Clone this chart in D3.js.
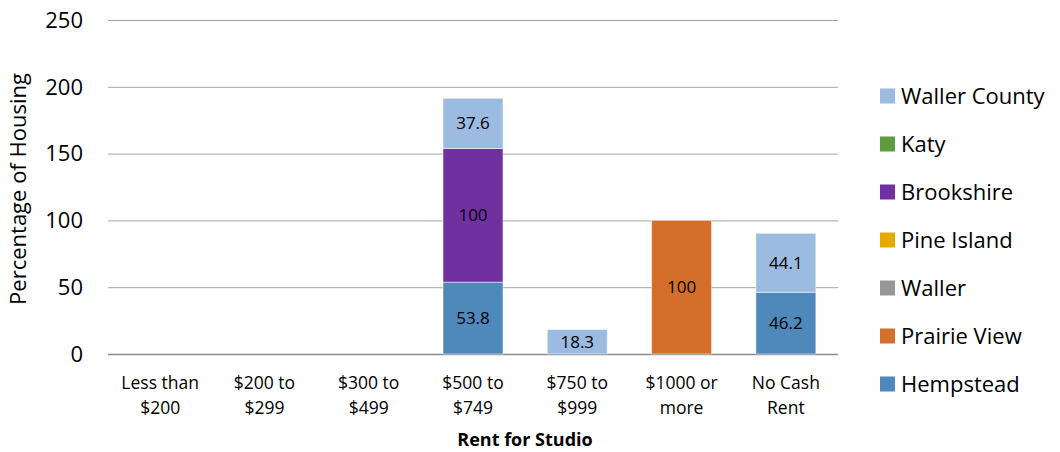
<!DOCTYPE html>
<html><head><meta charset="utf-8">
<script src="https://cdn.jsdelivr.net/npm/d3@7"></script>
<style>body{margin:0;background:#fff}svg{display:block}text{font-family:"Open Sans","Noto Sans",sans-serif;fill:#000}</style>
</head><body><svg id="c" width="1060" height="452"></svg>
<script>
const categories = [["Less than","$200"],["$200 to","$299"],["$300 to","$499"],["$500 to","$749"],["$750 to","$999"],["$1000 or","more"],["No Cash","Rent"]];
const seriesNames = ["Hempstead","Prairie View","Waller","Pine Island","Brookshire","Katy","Waller County"];
const hempstead    = [0,0,0,53.8,0,0,46.2];
const prairieView  = [0,0,0,0,0,100,0];
const waller       = [0,0,0,0,0,0,0];
const pineIsland   = [0,0,0,0,0,0,0];
const brookshire   = [0,0,0,100,0,0,0];
const katy         = [0,0,0,0,0,0,0];
const wallerCounty = [0,0,0,37.6,18.3,0,44.1];
const yTicks = [0,50,100,150,200,250];
const colors = ["#4f88bb","#d36f2a","#969696","#e5ab00","#7030a0","#5f9b3f","#9bbbe0"];
const seriesVals = [hempstead,prairieView,waller,pineIsland,brookshire,katy,wallerCounty];

const svg = d3.select("#c");
const m = {l:108, r:838, t:20, b:354};
const x = d3.scaleBand().domain(categories.map((d,i)=>i)).range([m.l,m.r]).paddingInner(0.425).paddingOuter(0.2125);
const y = d3.scaleLinear().domain([0,250]).range([m.b,m.t]);

svg.append("g").selectAll("line").data(yTicks).join("line")
  .attr("x1",m.l).attr("x2",m.r).attr("y1",d=>y(d)+0.5).attr("y2",d=>y(d)+0.5)
  .attr("stroke",d=>d===0?"#8c8c8c":"#a6a6a6").attr("stroke-width",d=>d===0?1.5:1);
svg.append("g").selectAll("text").data(yTicks).join("text")
  .attr("x",83).attr("y",d=>y(d)).attr("dy","0.35em").attr("text-anchor","end")
  .style("font-size","22px").text(d=>d);

const rows = categories.map((c,i)=>{const o={i}; seriesNames.forEach((s,k)=>o[s]=seriesVals[k][i]); return o;});
const stack = d3.stack().keys(seriesNames)(rows);
stack.forEach((layer,k)=>{
  const g = svg.append("g");
  layer.forEach((seg,i)=>{
    const v = seriesVals[k][i];
    if(v<=0) return;
    g.append("rect").attr("x",x(i)).attr("width",x.bandwidth())
      .attr("y",y(seg[1])).attr("height",y(seg[0])-y(seg[1]))
      .attr("fill",colors[k]).attr("stroke","rgba(255,255,255,0.5)").attr("stroke-width",1);
    g.append("text").attr("x",x(i)+x.bandwidth()/2).attr("y",(y(seg[0])+y(seg[1]))/2)
      .attr("dy","0.35em").attr("text-anchor","middle").style("font-size","17px").text(v);
  });
});

categories.forEach((c,i)=>{
  const t = svg.append("text").attr("x",x(i)+x.bandwidth()/2).attr("y",389).attr("text-anchor","middle").style("font-size","17.5px");
  c.forEach((line,j)=>t.append("tspan").attr("x",x(i)+x.bandwidth()/2).attr("dy",j?"25px":0).text(line));
});
svg.append("text").attr("x",525).attr("y",446).attr("text-anchor","middle").style("font-size","18px").style("font-weight","bold").text("Rent for Studio");
svg.append("text").attr("transform","translate(26,189) rotate(-90)").attr("text-anchor","middle").style("font-size","22px").text("Percentage of Housing");

const legOrder = seriesNames.map((s,k)=>({s,c:colors[k]})).reverse();
const lg = svg.append("g");
legOrder.forEach((d,j)=>{
  const cy = 96 + j*48;
  lg.append("rect").attr("x",880).attr("y",cy-7.5).attr("width",15).attr("height",15).attr("fill",d.c);
  lg.append("text").attr("x",901).attr("y",cy).attr("dy","0.35em").style("font-size","22px").text(d.s);
});
</script></body></html>
